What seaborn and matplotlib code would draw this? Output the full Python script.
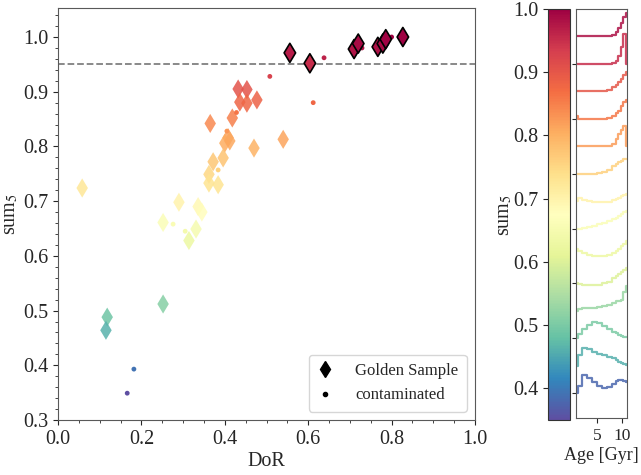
import numpy as np
import pandas as pd
import seaborn as sns
import matplotlib.pyplot as plt
from matplotlib import cm, colors
from matplotlib.lines import Line2D
from matplotlib.ticker import AutoMinorLocator

# golden sample (diamonds)
gold_dor = [0.556, 0.604, 0.710, 0.720, 0.767, 0.779, 0.786, 0.827,
            0.432, 0.453, 0.436, 0.453, 0.477, 0.418, 0.365, 0.408, 0.400, 0.412,
            0.540, 0.470, 0.372, 0.396, 0.362, 0.362, 0.384, 0.058, 0.290, 0.336,
            0.345, 0.252, 0.331, 0.314, 0.118, 0.115, 0.252]
gold_sum5 = [0.971, 0.952, 0.978, 0.988, 0.982, 0.988, 0.996, 1.000,
             0.905, 0.904, 0.881, 0.879, 0.885, 0.852, 0.842, 0.816, 0.806, 0.810,
             0.813, 0.797, 0.772, 0.779, 0.749, 0.733, 0.730, 0.724, 0.698, 0.690,
             0.680, 0.661, 0.649, 0.628, 0.488, 0.464, 0.512]

# contaminated (dots)
cont_dor = [0.508, 0.612, 0.638, 0.729, 0.800, 0.405, 0.428, 0.384, 0.276, 0.305, 0.182, 0.166]
cont_sum5 = [0.928, 0.880, 0.962, 0.980, 1.000, 0.828, 0.862, 0.757, 0.658, 0.645, 0.393, 0.349]

threshold = 0.95
vmin, vmax = 0.35, 1.0

# age profiles for the side panel (bottom to top), offset by one unit each
ages = [0.8, 1.5, 2.5, 3.5, 4.5, 5.5, 6.5, 7.5, 8.5, 9.0, 9.5, 10.0, 10.5, 11.0]
profiles = [
    [0.00, 0.25, 0.65, 0.55, 0.40, 0.25, 0.18, 0.22, 0.35, 0.45, 0.48, 0.47, 0.43, 0.40],
    [0.00, 0.40, 0.65, 0.60, 0.50, 0.44, 0.38, 0.32, 0.27, 0.22, 0.15, 0.10, 0.05, 0.02],
    [0.00, 0.15, 0.35, 0.50, 0.58, 0.55, 0.45, 0.35, 0.25, 0.18, 0.12, 0.08, 0.05, 0.04],
    [0.00, 0.08, 0.10, 0.10, 0.12, 0.15, 0.18, 0.22, 0.30, 0.35, 0.38, 0.40, 0.70, 0.90],
    [0.00, -0.02, -0.04, -0.05, -0.05, -0.04, 0.00, 0.07, 0.20, 0.27, 0.35, 0.42, 0.50, 0.55],
    [0.25, 0.18, 0.10, 0.04, 0.01, 0.00, 0.00, 0.02, 0.10, 0.17, 0.25, 0.35, 0.45, 0.55],
    [0.00, 0.00, 0.02, 0.05, 0.10, 0.16, 0.22, 0.28, 0.35, 0.40, 0.46, 0.53, 0.60, 0.65],
    [0.00, 0.12, 0.03, 0.00, -0.02, -0.03, -0.03, -0.02, 0.03, 0.08, 0.12, 0.17, 0.22, 0.26],
    [0.00, 0.00, 0.00, 0.00, 0.00, 0.02, 0.08, 0.15, 0.28, 0.35, 0.42, 0.48, 0.53, 0.55],
    [0.00, 0.00, 0.00, 0.00, 0.00, 0.00, 0.00, 0.02, 0.10, 0.25, 0.45, 0.60, 0.75, 0.00],
    [0.12, 0.00, 0.00, 0.00, 0.00, 0.00, 0.00, 0.03, 0.10, 0.20, 0.30, 0.45, 0.60, 0.70],
    [0.00, 0.00, 0.00, 0.00, 0.00, 0.00, 0.00, 0.05, 0.15, 0.22, 0.33, 0.45, 0.60, 0.70],
    [0.00, 0.00, 0.00, 0.00, 0.00, 0.00, 0.00, 0.00, 0.05, 0.10, 0.30, 0.60, 1.10, 0.00],
    [0.00, 0.00, 0.00, 0.00, 0.00, 0.00, 0.00, 0.00, 0.05, 0.15, 0.30, 0.50, 0.70, 0.85],
]
profile_sum5 = [0.38, 0.46, 0.50, 0.53, 0.60, 0.63, 0.66, 0.70, 0.76, 0.82, 0.86, 0.90, 0.95, 0.98]

sns.set_style("ticks")
plt.rcParams['font.family'] = ['Liberation Serif', 'DejaVu Serif']
plt.rcParams['mathtext.fontset'] = 'stix'
plt.rcParams['font.size'] = 14.5

cmap = plt.get_cmap('Spectral_r')
norm = colors.Normalize(vmin=vmin, vmax=vmax)

gold = pd.DataFrame({'dor': gold_dor, 'sum5': gold_sum5})
cont = pd.DataFrame({'dor': cont_dor, 'sum5': cont_sum5})
above = gold[gold['sum5'] >= threshold]
below = gold[gold['sum5'] < threshold]

fig = plt.figure(figsize=(6.41, 4.75), dpi=100)
ax = fig.add_axes([58 / 641, 1 - 420 / 475, 417 / 641, 412 / 475])
cax = fig.add_axes([548 / 641, 1 - 420 / 475, 22 / 641, 411 / 475])
pax = fig.add_axes([576 / 641, 1 - 418 / 475, 51 / 641, 409 / 475])

ax.axhline(threshold, color='0.5', ls='--', lw=1.3, zorder=1)
sns.scatterplot(data=below, x='dor', y='sum5', hue='sum5', palette='Spectral_r',
                hue_norm=norm, marker='d', s=95, linewidth=0, alpha=0.85,
                legend=False, ax=ax, zorder=3)
sns.scatterplot(data=cont, x='dor', y='sum5', hue='sum5', palette='Spectral_r',
                hue_norm=norm, marker='o', s=12, linewidth=0,
                legend=False, ax=ax, zorder=4)
sns.scatterplot(data=above, x='dor', y='sum5', hue='sum5', palette='Spectral_r',
                hue_norm=norm, marker='d', s=95, edgecolor='k', linewidth=1.2,
                legend=False, ax=ax, zorder=5)

ax.set_xlim(0, 1)
ax.set_ylim(0.3, 1.053)
ax.set_xlabel('DoR', labelpad=2)
ax.set_ylabel(r'sum$_5$', labelpad=2)
ax.xaxis.set_minor_locator(AutoMinorLocator())
ax.yaxis.set_minor_locator(AutoMinorLocator())
for sp in ax.spines.values():
    sp.set_color('0.35')

handles = [Line2D([], [], marker='d', color='k', ls='none', markersize=8),
           Line2D([], [], marker='o', color='k', ls='none', markersize=3)]
ax.legend(handles, ['Golden Sample', 'contaminated'], loc='lower right',
          fontsize=12, borderpad=0.5, handlelength=1.0, handletextpad=1.3)

sm = cm.ScalarMappable(norm=norm, cmap=cmap)
cb = fig.colorbar(sm, cax=cax)
cax.yaxis.set_ticks_position('left')
cax.yaxis.set_label_position('left')
cb.set_ticks([0.4, 0.5, 0.6, 0.7, 0.8, 0.9, 1.0])
cb.set_label(r'sum$_5$', labelpad=-1)
cb.outline.set_edgecolor('0.2')

for i, prof in enumerate(profiles):
    yvals = np.array(prof) + i
    sns.lineplot(x=ages, y=yvals, ax=pax, color=cmap(norm(profile_sum5[i])),
                 lw=1.6, alpha=0.85, drawstyle='steps-mid', estimator=None, sort=False)
pax.set_xlim(0.8, 11.0)
pax.set_ylim(-0.9, 14.0)
pax.set_xticks([5, 10])
pax.set_yticks(range(0, 13, 2))
pax.set_yticklabels([])
pax.tick_params(axis='y', length=3)
pax.tick_params(axis='x', labelsize=12.5)
pax.set_xlabel('Age [Gyr]', fontsize=13, labelpad=2)
for sp in pax.spines.values():
    sp.set_visible(True)
    sp.set_color('0.35')

fig.savefig('out.png', dpi=100)
